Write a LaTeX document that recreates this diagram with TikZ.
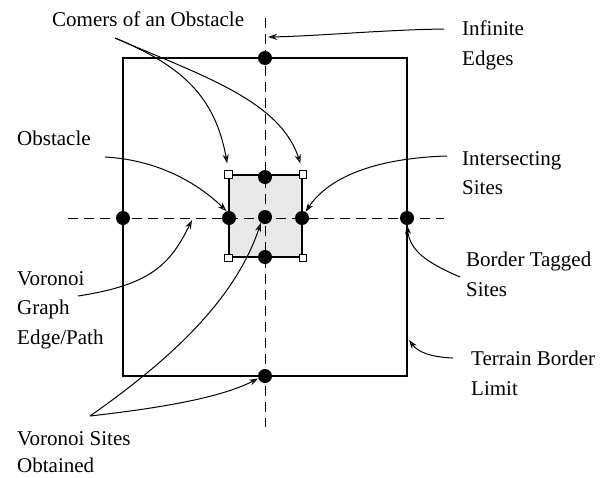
\documentclass[tikz,border=0pt]{standalone}
\usepackage{fontspec}
\setmainfont{Liberation Serif}
\usetikzlibrary{arrows.meta}
\begin{document}
\begin{tikzpicture}[x=1pt,y=-1pt,
  lbl/.style={anchor=north west, inner sep=0pt, align=left, font=\fontsize{21}{29.5}\selectfont},
  site/.style={circle, fill=black, minimum size=14pt, inner sep=0pt},
  cornerbox/.style={draw, fill=white, minimum size=7.5pt, inner sep=0pt, line width=0.7pt},
  dashline/.style={dash pattern=on 10pt off 6pt, line width=1pt},
  conn/.style={line width=1pt, -{Stealth[length=9pt,width=6pt,open]}},
]
\useasboundingbox (0,0) rectangle (605,477);

% terrain border and obstacle
\node[draw, line width=1.3pt, minimum width=284pt, minimum height=318pt, inner sep=0pt] (frame) at (265,217) {};
\node[draw, fill=gray!18, line width=1.2pt, minimum width=73pt, minimum height=82pt, inner sep=0pt] (obs) at (265.5,216) {};

% infinite edges (dashed)
\coordinate (vt) at (265,18);
\coordinate (vb) at (265,427);
\coordinate (hl) at (68,218);
\coordinate (hr) at (444,218);
\draw[dashline] (vt) -- (vb);
\draw[dashline] (hl) -- (hr);

% corners of obstacle
\node[cornerbox] (ctl) at (obs.north west) {};
\node[cornerbox] (ctr) at (obs.north east) {};
\node[cornerbox] (cbl) at (obs.south west) {};
\node[cornerbox] (cbr) at (obs.south east) {};

% sites
\node[site] (stop) at (265,58) {};
\node[site] (sotop) at (265,177) {};
\node[site] (sc) at (265,217) {};
\node[site] (sol) at (229,218) {};
\node[site] (sor) at (302,218) {};
\node[site] (sob) at (265,257) {};
\node[site] (sbl) at (123,218) {};
\node[site] (sbr) at (407,218) {};
\node[site] (sbb) at (265,376) {};

% labels
\node[lbl] (lcorners) at (52,12) {Comers of an Obstacle};
\node[lbl] (linf) at (462,21) {Infinite\\Edges};
\node[lbl] (lobs) at (17,131) {Obstacle};
\node[lbl] (lint) at (462,151) {Intersecting\\Sites};
\node[lbl] (lvg) at (17,271) {Voronoi\\Graph\\Edge/Path};
\node[lbl] (lbt) at (466,252) {Border Tagged\\Sites};
\node[lbl] (ltb) at (471,351) {Terrain Border\\Limit};
\node[lbl, font=\fontsize{21}{27}\selectfont] (lvs) at (17,431) {Voronoi Sites\\Obtained};

% connector free ends
\coordinate (ccs) at (115,38);
\coordinate (ies) at (444,29);
\coordinate (iet) at (268,37);
\coordinate (obsS) at (105,157);
\coordinate (intS) at (447,156);
\coordinate (vgS) at (78,296);
\coordinate (vgT) at (192,220);
\coordinate (btS) at (460,277);
\coordinate (tbS) at (453,358);
\coordinate (tbT) at (409,340);
\coordinate (vsS) at (90,416);

% connectors
\draw[conn, shorten >=7pt] (ccs) .. controls (180,65) and (215,95) .. (ctl.north);
\draw[conn, shorten >=7pt] (ccs) .. controls (200,75) and (280,100) .. (ctr.north);
\draw[conn] (ies) .. controls (380,30) and (320,36) .. (iet);
\draw[conn] (obsS) .. controls (160,160) and (200,185) .. (sol.110);
\draw[conn] (intS) .. controls (380,158) and (330,175) .. (sor.60);
\draw[conn] (vgS) .. controls (150,285) and (170,265) .. (vgT);
\draw[conn] (btS) .. controls (425,262) and (410,250) .. (sbr.south);
\draw[conn] (tbS) .. controls (430,357) and (418,352) .. (tbT);
\draw[conn] (vsS) .. controls (160,408) and (220,398) .. (sbb.200);
\draw[conn] (vsS) .. controls (170,360) and (235,300) .. (sc.235);
\end{tikzpicture}
\end{document}
